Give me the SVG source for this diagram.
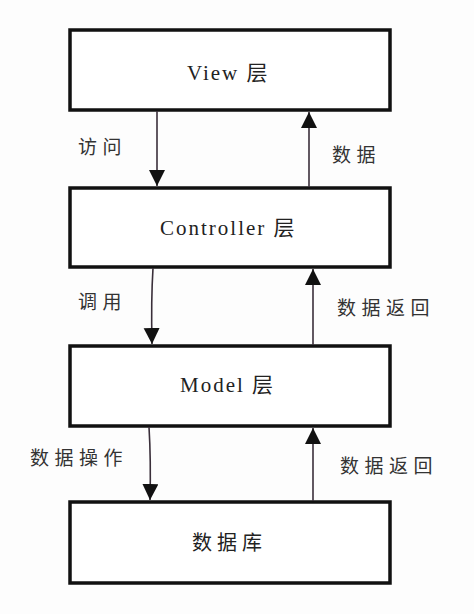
<svg xmlns="http://www.w3.org/2000/svg" width="474" height="614" viewBox="0 0 474 614">
<defs>
<style>
.box{fill:#fff;stroke:#111;stroke-width:3.5}
.t{font-family:"Liberation Serif","Noto Sans CJK SC",serif;font-size:21px;fill:#222;letter-spacing:2px}
.c{font-family:"Noto Sans CJK SC",sans-serif;font-size:20px;fill:#222;letter-spacing:5px}
.l{font-family:"Noto Sans CJK SC",sans-serif;font-size:19px;fill:#333;letter-spacing:5.5px}
.e{stroke:#3a2f3a;stroke-width:1.6;fill:none;marker-end:url(#ah)}
</style>
<marker id="ah" markerUnits="userSpaceOnUse" markerWidth="16" markerHeight="18" viewBox="0 0 16 18" refX="16" refY="8" orient="auto">
<path d="M0,0 L16,8 L0,16 Z" fill="#111"/>
</marker>
</defs>
<rect width="474" height="614" fill="#fdfdfd"/>
<g id="view"><rect class="box" x="70" y="30" width="320" height="80"/><text class="t" x="187" y="80">View 层</text></g>
<g id="controller"><rect class="box" x="70" y="188" width="320" height="79"/><text class="t" x="160" y="235">Controller 层</text></g>
<g id="model"><rect class="box" x="70" y="346" width="320" height="80"/><text class="t" x="180" y="392">Model 层</text></g>
<g id="database"><rect class="box" x="70" y="502" width="320" height="81"/><text class="c" x="192" y="550">数据库</text></g>
<g id="connectors">
<line class="e" x1="157" y1="111" x2="157" y2="186"/>
<line class="e" x1="309" y1="187" x2="309" y2="112"/>
<path class="e" d="M153,268 Q151,300 152,344"/>
<line class="e" x1="313" y1="345" x2="313" y2="269"/>
<path class="e" d="M149,427 Q151,460 150,500"/>
<line class="e" x1="313" y1="501" x2="313" y2="428"/>
<text class="l" x="78" y="154">访问</text>
<text class="l" x="332" y="162">数据</text>
<text class="l" x="78" y="309">调用</text>
<text class="l" x="337" y="315">数据返回</text>
<text class="l" x="30" y="465">数据操作</text>
<text class="l" x="340" y="473">数据返回</text>
</g>
</svg>
